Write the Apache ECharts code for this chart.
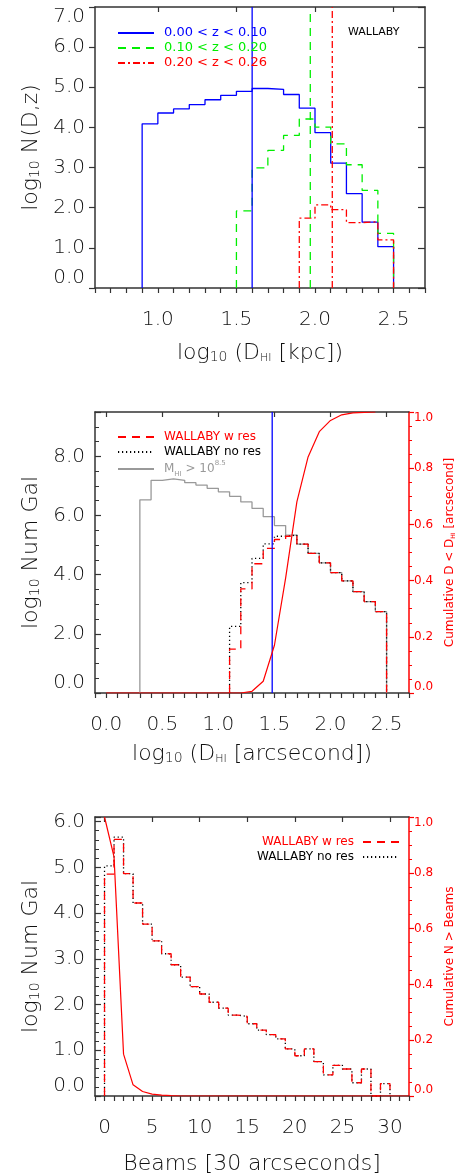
<!DOCTYPE html>
<html>
<head>
<meta charset="utf-8">
<script src="https://cdn.jsdelivr.net/npm/echarts@6/dist/echarts.min.js"></script>
<style>
  html, body { margin: 0; padding: 0; background: #fff; }
  #chart { width: 464px; height: 1176px; }
</style>
</head>
<body>
<div id="chart"></div>
<script>
// ---- panel 1: log10 N(D,z) per redshift slice, bins in log10 D_HI [kpc]
const kpcEdges = [0.9, 1.0, 1.1, 1.2, 1.3, 1.4, 1.5, 1.6, 1.7, 1.8, 1.9, 2.0, 2.1, 2.2, 2.3, 2.4, 2.5]
const zLow = [4.09, 4.36, 4.46, 4.57, 4.69, 4.80, 4.90, 4.97, 4.95, 4.82, 4.48, 3.87, 3.11, 2.35, 1.64, 1.03]
const zMid = [null, null, null, null, null, null, 1.92, 2.99, 3.43, 3.80, 4.21, 4.01, 3.59, 3.07, 2.43, 1.36]
const zHigh = [null, null, null, null, null, null, null, null, null, null, 1.74, 2.07, 1.95, 1.63, 1.65, 1.20]
// vertical marker per slice: x position and top end
const kpcMarkX = [1.6, 1.97, 2.11]
const kpcMarkTop = [7.0, 6.95, 7.0]
const kpcTicks = [0.6, 0.7, 0.8, 0.9, 1.0, 1.1, 1.2, 1.3, 1.4, 1.5, 1.6, 1.7, 1.8, 1.9, 2.0, 2.1, 2.2, 2.3, 2.4, 2.5, 2.6, 2.7]
const kpcLabels = [1.0, 1.5, 2.0, 2.5]

// ---- panel 2: log10 Num Gal, bins in log10 D_HI [arcsecond]
const arcEdges = [0.3, 0.4, 0.5, 0.6, 0.7, 0.8, 0.9, 1.0, 1.1, 1.2, 1.3, 1.4, 1.5, 1.6, 1.7, 1.8, 1.9, 2.0, 2.1, 2.2, 2.3, 2.4, 2.5]
const arcAll = [6.53, 7.19, 7.24, 7.19, 7.11, 7.03, 6.92, 6.80, 6.65, 6.46, 6.24, 5.96, 5.66, 5.34, 5.03, 4.72, 4.40, 4.07, 3.79, 3.43, 3.09, 2.75]
const arcNoRes = [null, null, null, null, null, null, null, null, 2.25, 3.73, 4.55, 5.04, 5.30, 5.34, 5.03, 4.72, 4.40, 4.07, 3.79, 3.43, 3.09, 2.75]
const arcWRes = [null, null, null, null, null, null, null, null, 1.48, 3.52, 4.37, 4.89, 5.19, 5.30, 5.03, 4.72, 4.40, 4.07, 3.79, 3.43, 3.09, 2.75]
const arcCumX = [0.0, 0.1, 0.2, 0.3, 0.4, 0.5, 0.6, 0.7, 0.8, 0.9, 1.0, 1.1, 1.2, 1.3, 1.4, 1.5, 1.6, 1.7, 1.8, 1.9, 2.0, 2.1, 2.2, 2.3, 2.4]
const arcCumY = [0, 0, 0, 0, 0, 0, 0, 0, 0, 0, 0, 0, 0, 0.006, 0.042, 0.17, 0.41, 0.68, 0.84, 0.93, 0.97, 0.99, 0.997, 0.999, 1.0]
const arcMarkX = 1.48
const arcTicks = [-0.1, 0.0, 0.1, 0.2, 0.3, 0.4, 0.5, 0.6, 0.7, 0.8, 0.9, 1.0, 1.1, 1.2, 1.3, 1.4, 1.5, 1.6, 1.7, 1.8, 1.9, 2.0, 2.1, 2.2, 2.3, 2.4, 2.5, 2.6, 2.7]
const arcLabels = [0.0, 0.5, 1.0, 1.5, 2.0, 2.5]

// ---- panel 3: log10 Num Gal vs beams
const beamEdges = [0, 1, 2, 3, 4, 5, 6, 7, 8, 9, 10, 11, 12, 13, 14, 15, 16, 17, 18, 19, 20, 21, 22, 23, 24, 25, 26, 27, 28, 29, 30]
const beamNoRes = [5.03, 5.66, 4.86, 4.22, 3.76, 3.39, 3.11, 2.87, 2.60, 2.39, 2.23, 2.05, 1.92, 1.77, 1.74, 1.58, 1.44, 1.34, 1.25, 1.03, 0.88, 1.03, 0.75, 0.46, 0.67, 0.59, 0.29, 0.59, 0, 0.27]
const beamWRes = [4.85, 5.61, 4.86, 4.22, 3.76, 3.39, 3.11, 2.87, 2.60, 2.39, 2.23, 2.05, 1.92, 1.77, 1.74, 1.58, 1.44, 1.34, 1.25, 1.03, 0.88, 1.03, 0.75, 0.46, 0.67, 0.59, 0.29, 0.59, 0, 0.27]
const beamCumX = [0, 1, 2, 3, 4, 5, 6, 7, 8, 9, 10, 11, 12, 13, 14, 15, 16, 17, 18, 19, 20, 21, 22, 23, 24, 25, 26, 27, 28, 29, 30, 31, 32]
const beamCumY = [1.0, 0.857, 0.15, 0.04, 0.016, 0.007, 0.003, 0.001, 0, 0, 0, 0, 0, 0, 0, 0, 0, 0, 0, 0, 0, 0, 0, 0, 0, 0, 0, 0, 0, 0, 0, 0, 0]
const beamTicks = [-1, 0, 1, 2, 3, 4, 5, 6, 7, 8, 9, 10, 11, 12, 13, 14, 15, 16, 17, 18, 19, 20, 21, 22, 23, 24, 25, 26, 27, 28, 29, 30, 31, 32]
const beamLabels = [0, 5, 10, 15, 20, 25, 30]

const legendText = {
  z1: '0.00 < z < 0.10',
  z2: '0.10 < z < 0.20',
  z3: '0.20 < z < 0.26',
  wres2: 'WALLABY w res',
  nores2: 'WALLABY no res',
  all2: '{m|M}{h|HI}{m| > 10}{p|8.5}',
  wres3: 'WALLABY w res',
  nores3: 'WALLABY no res'
}

const font = 'DejaVu Sans'
const light = 200
const ink = '#333'
const textInk = '#111'
const red = '#ff0000'
const blue = '#0000ff'
const green = '#00ee00'
const gray = '#999999'

// histogram outline: rises from 0 at the first filled bin, drops back at the last
const hist = (edges, vals) => {
  const first = vals.findIndex(v => v !== null)
  let last = vals.length - 1
  while (vals[last] === null) last--
  const pts = [[edges[first], 0]]
  for (let i = first; i <= last; i++) {
    pts.push([edges[i], vals[i]], [edges[i + 1], vals[i]])
  }
  pts.push([edges[last + 1], 0])
  return pts
}

const titleRich = (color, size, weight) => ({
  a: { fontSize: size, fontFamily: font, fontWeight: weight, color, lineHeight: size + 4, verticalAlign: 'bottom' },
  s: { fontSize: Math.round(size * 0.62), fontFamily: font, fontWeight: weight, color, lineHeight: Math.round(size * 0.62), verticalAlign: 'bottom' },
  h: { fontSize: Math.round(size * 0.5), fontFamily: font, fontWeight: weight, color, lineHeight: Math.round(size * 0.5), verticalAlign: 'bottom' }
})

const xBottom = (gridIndex, min, max, ticks, labels, digits, name, nameGap) => ({
  type: 'value', gridIndex, min, max, position: 'bottom',
  axisLine: { show: true, onZero: false, lineStyle: { color: ink, width: 1.5 } },
  axisTick: { show: true, inside: false, length: 5, customValues: ticks, lineStyle: { color: ink, width: 1.2 } },
  axisLabel: { customValues: labels, margin: 22, color: textInk, fontSize: 20, fontFamily: font, fontWeight: light, formatter: v => v.toFixed(digits) },
  splitLine: { show: false },
  name, nameLocation: 'middle', nameGap,
  nameTextStyle: { rich: titleRich(textInk, 22, light) }
})

const xTop = (gridIndex, min, max, ticks) => ({
  type: 'value', gridIndex, min, max, position: 'top',
  axisLine: { show: true, onZero: false, lineStyle: { color: ink, width: 1.5 } },
  axisTick: { show: true, inside: true, length: 5, customValues: ticks, lineStyle: { color: ink, width: 1.2 } },
  axisLabel: { show: false },
  splitLine: { show: false }
})

const yLeft = (gridIndex, max, interval, minor, inside, name) => ({
  type: 'value', gridIndex, min: 0, max, interval, position: 'left',
  axisLine: { show: true, onZero: false, lineStyle: { color: ink, width: 1.5 } },
  axisTick: { show: true, inside, length: 6, lineStyle: { color: ink, width: 1.2 } },
  minorTick: { show: minor > 0, splitNumber: minor || 5, length: 4, lineStyle: { color: ink, width: 1 } },
  axisLabel: {
    margin: 10, color: textInk, fontSize: 20, fontFamily: font, fontWeight: light, formatter: v => v.toFixed(1),
    showMaxLabel: max % interval === 0, verticalAlignMaxLabel: 'top', verticalAlignMinLabel: 'bottom'
  },
  splitLine: { show: false },
  name, nameLocation: 'middle', nameRotate: 90, nameGap: 52,
  nameTextStyle: { rich: titleRich(textInk, 22, light) }
})

const yMirror = (gridIndex, max, interval) => ({
  type: 'value', gridIndex, min: 0, max, interval, position: 'right',
  axisLine: { show: true, onZero: false, lineStyle: { color: ink, width: 1.5 } },
  axisTick: { show: true, inside: true, length: 7, lineStyle: { color: ink, width: 1.2 } },
  axisLabel: { show: false },
  splitLine: { show: false }
})

const yCum = (gridIndex, name) => ({
  type: 'value', gridIndex, min: 0, max: 1, interval: 0.2, position: 'right',
  axisLine: { show: true, onZero: false, lineStyle: { color: red, width: 1.5 } },
  axisTick: { show: true, inside: false, length: 5, lineStyle: { color: red, width: 1.2 } },
  minorTick: { show: true, splitNumber: 4, length: 3, lineStyle: { color: red, width: 1 } },
  axisLabel: {
    margin: 5, color: red, fontSize: 12, fontFamily: font, formatter: v => v.toFixed(1),
    verticalAlignMaxLabel: 'top', verticalAlignMinLabel: 'bottom'
  },
  splitLine: { show: false },
  name, nameLocation: 'middle', nameRotate: 90, nameGap: 28,
  nameTextStyle: { rich: titleRich(red, 12, 'normal') }
})

const line = (name, xAxisIndex, yAxisIndex, data, color, type, width) => ({
  name, type: 'line', xAxisIndex, yAxisIndex, data, symbol: 'none', silent: true,
  lineStyle: { color, type, width: width || 1.3 }, itemStyle: { color }
})

const vline = (xAxisIndex, yAxisIndex, x, top, color, type) =>
  line('', xAxisIndex, yAxisIndex, [[x, 0], [x, top]], color, type, 1.3)

const dashed = [8, 6]
const dotted = [1.2, 2.8]
const dashDot = [7, 3, 2, 3]

const legendBase = {
  orient: 'vertical', padding: 0, itemWidth: 36, itemHeight: 10, itemGap: 1,
  formatter: n => legendText[n], selectedMode: false,
  itemStyle: { opacity: 0, borderWidth: 0 },
  textStyle: {
    fontSize: 12, fontFamily: font, lineHeight: 14, padding: [0, 0, 0, 5],
    rich: {
      m: { fontSize: 12, fontFamily: font, color: gray },
      h: { fontSize: 7, fontFamily: font, color: gray, verticalAlign: 'bottom', lineHeight: 10 },
      p: { fontSize: 7, fontFamily: font, color: gray, verticalAlign: 'top', lineHeight: 18 }
    }
  }
}

const chart = echarts.init(document.getElementById('chart'))

chart.setOption({
  animation: false,
  backgroundColor: '#fff',
  grid: [
    { left: 95, top: 7, width: 330, height: 281 },
    { left: 95, top: 412, width: 330, height: 281 },
    { left: 95, top: 817, width: 330, height: 280 }
  ],
  xAxis: [
    xBottom(0, 0.6, 2.7, kpcTicks, kpcLabels, 1, '{a|log}{s|10}{a| (D}{h|HI}{a| [kpc])}', 50),
    xTop(0, 0.6, 2.7, kpcLabels),
    xBottom(1, -0.1, 2.7, arcTicks, arcLabels, 1, '{a|log}{s|10}{a| (D}{h|HI}{a| [arcsecond])}', 46),
    xTop(1, -0.1, 2.7, arcLabels),
    xBottom(2, -1, 32, beamTicks, beamLabels, 0, '{a|Beams [30 arcseconds]}', 53),
    xTop(2, -1, 32, beamLabels)
  ],
  yAxis: [
    yLeft(0, 7, 1, 0, false, '{a|log}{s|10}{a| N(D,z)}'),
    yMirror(0, 7, 1),
    yLeft(1, 9.5, 2, 4, true, '{a|log}{s|10}{a| Num Gal}'),
    yCum(1, '{a|Cumulative D < D}{h|HI}{a| [arcsecond]}'),
    yLeft(2, 6.1, 1, 5, true, '{a|log}{s|10}{a| Num Gal}'),
    yCum(2, '{a|Cumulative N > Beams}')
  ],
  legend: [
    Object.assign({}, legendBase, {
      left: 117, top: 26, textStyle: Object.assign({}, legendBase.textStyle, { fontSize: 13 }),
      data: [
        { name: 'z1', textStyle: { color: blue } },
        { name: 'z2', textStyle: { color: green } },
        { name: 'z3', textStyle: { color: red } }
      ]
    }),
    Object.assign({}, legendBase, {
      left: 117, top: 430,
      data: [
        { name: 'wres2', textStyle: { color: red } },
        { name: 'nores2', textStyle: { color: '#000' } },
        { name: 'all2', textStyle: { color: gray } }
      ]
    }),
    Object.assign({}, legendBase, {
      right: 64, top: 835, align: 'right',
      textStyle: Object.assign({}, legendBase.textStyle, { padding: [0, 4, 0, 0] }),
      data: [
        { name: 'wres3', textStyle: { color: red } },
        { name: 'nores3', textStyle: { color: '#000' } }
      ]
    })
  ],
  graphic: [
    { type: 'text', left: 348, top: 27, style: { text: 'WALLABY', fontSize: 11, fontFamily: font, fill: '#000' } }
  ],
  series: [
    // panel 1
    line('z1', 0, 0, hist(kpcEdges, zLow), blue, 'solid'),
    line('z2', 0, 0, hist(kpcEdges, zMid), green, dashed),
    line('z3', 0, 0, hist(kpcEdges, zHigh), red, dashDot),
    vline(0, 0, kpcMarkX[0], kpcMarkTop[0], blue, 'solid'),
    vline(0, 0, kpcMarkX[1], kpcMarkTop[1], green, dashed),
    vline(0, 0, kpcMarkX[2], kpcMarkTop[2], red, dashDot),
    // panel 2
    line('all2', 2, 2, hist(arcEdges, arcAll), gray, 'solid'),
    line('nores2', 2, 2, hist(arcEdges, arcNoRes), '#000', dotted),
    line('wres2', 2, 2, hist(arcEdges, arcWRes), red, dashed),
    vline(2, 2, arcMarkX, 9.5, blue, 'solid'),
    line('cum2', 2, 3, arcCumX.map((x, i) => [x, arcCumY[i]]), red, 'solid', 1.2),
    // panel 3
    line('nores3', 4, 4, hist(beamEdges, beamNoRes), '#000', dotted),
    line('wres3', 4, 4, hist(beamEdges, beamWRes), red, dashed),
    line('cum3', 4, 5, beamCumX.map((x, i) => [x, beamCumY[i]]), red, 'solid', 1.2)
  ]
})
</script>
</body>
</html>
